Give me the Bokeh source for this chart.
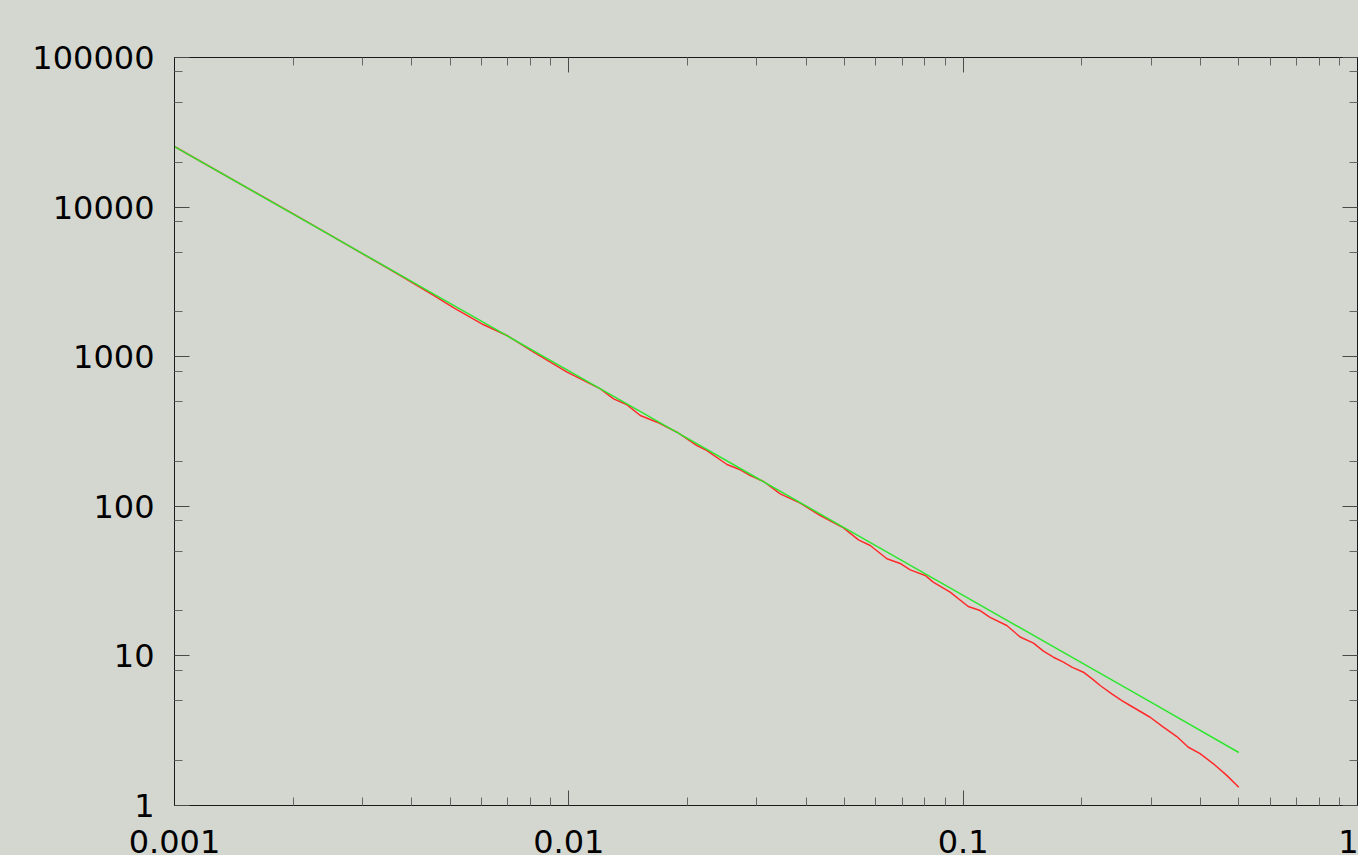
from bokeh.plotting import figure
from bokeh.models import FixedTicker, LogAxis, CustomJSTickFormatter, Range1d
from bokeh.embed import file_html
from bokeh.resources import INLINE

# ---- tick definitions ----
x_ticks = [0.001, 0.01, 0.1, 1]
x_minor_ticks = [0.002, 0.003, 0.004, 0.005, 0.006, 0.007, 0.008, 0.009,
                 0.02, 0.03, 0.04, 0.05, 0.06, 0.07, 0.08, 0.09,
                 0.2, 0.3, 0.4, 0.5, 0.6, 0.7, 0.8, 0.9]
y_ticks = [1, 10, 100, 1000, 10000, 100000]
y_minor_ticks = [2, 5, 8, 20, 50, 80, 200, 500, 800,
                 2000, 5000, 8000, 20000, 50000, 80000]

# ---- green series (reference curve) ----
green_x = [0.001, 0.002, 0.003, 0.004, 0.005, 0.007, 0.01, 0.012, 0.019,
           0.03, 0.05, 0.07, 0.1, 0.2, 0.3, 0.5]
green_y = [25400, 8980, 4888, 3175, 2272, 1371, 803, 611, 307,
           154.6, 71.8, 43.4, 25.4, 8.98, 4.89, 2.26]

# ---- red series (measured curve) ----
red_x = [0.001, 0.00209, 0.00374, 0.00454, 0.00511, 0.00608, 0.00697, 0.00814,
         0.00990, 0.01202, 0.01299, 0.01405, 0.01518, 0.01674, 0.01881, 0.02113,
         0.0224, 0.02518, 0.02721, 0.02885, 0.03117, 0.03436, 0.03862, 0.04341,
         0.04972, 0.05427, 0.05812, 0.06407, 0.06924, 0.0734, 0.08012, 0.08395,
         0.09268, 0.1030, 0.1104, 0.117, 0.129, 0.1395, 0.1508, 0.1598,
         0.1694, 0.1796, 0.1886, 0.2018, 0.214, 0.2225, 0.2382, 0.2526,
         0.2651, 0.2979, 0.3219, 0.3481, 0.3725, 0.3989, 0.4311, 0.466, 0.5]
red_y = [25420, 8430, 3490, 2566, 2123, 1634, 1386, 1072,
         787.8, 610, 523, 477, 404.6, 365, 312.8, 254.9,
         236, 190.3, 175.4, 160.7, 146.5, 121.2, 104.9, 86.8,
         71.8, 59.7, 54.7, 44.6, 41.5, 37.6, 34.5, 31.1,
         26.7, 21.4, 20.1, 18.1, 15.97, 13.38, 12.16, 10.75,
         9.80, 9.08, 8.41, 7.78, 6.92, 6.34, 5.58, 5.03,
         4.66, 3.89, 3.34, 2.89, 2.45, 2.22, 1.90, 1.59, 1.325]

BG = "#d4d7d0"
FONT = "DejaVu Sans"
FSIZE = "32px"

p = figure(frame_width=1183, frame_height=748,
           x_axis_type="log", y_axis_type="log",
           x_range=Range1d(0.001, 1), y_range=Range1d(1, 100000),
           output_backend="svg", toolbar_location=None,
           min_border_left=174, min_border_top=57,
           min_border_bottom=0, min_border_right=1,
           background_fill_color=BG, border_fill_color=BG,
           outline_line_color="#1a1a1a", outline_line_width=1)
p.grid.visible = False

fmt = CustomJSTickFormatter(code="return String(tick);")

def style_axis(ax, show_labels, standoff):
    ax.axis_line_color = "#1a1a1a"
    ax.axis_line_width = 1
    ax.major_tick_in = 15
    ax.major_tick_out = 0
    ax.minor_tick_in = 8
    ax.minor_tick_out = 0
    ax.major_tick_line_color = "#4a4a4a"
    ax.minor_tick_line_color = "#666666"
    ax.major_tick_line_width = 1
    ax.minor_tick_line_width = 1
    if show_labels:
        ax.major_label_text_font = FONT
        ax.major_label_text_font_size = FSIZE
        ax.major_label_text_color = "#000000"
        ax.major_label_standoff = standoff
    else:
        ax.major_label_text_color = None
        ax.major_label_text_font_size = "0px"
        ax.major_label_standoff = 0

p.xaxis[0].ticker = FixedTicker(ticks=x_ticks, minor_ticks=x_minor_ticks)
p.xaxis[0].formatter = fmt
style_axis(p.xaxis[0], True, 24)

p.yaxis[0].ticker = FixedTicker(ticks=y_ticks, minor_ticks=y_minor_ticks)
p.yaxis[0].formatter = fmt
style_axis(p.yaxis[0], True, 20)

top = LogAxis(ticker=FixedTicker(ticks=x_ticks, minor_ticks=x_minor_ticks), formatter=fmt)
style_axis(top, False, 0)
p.add_layout(top, "above")

right = LogAxis(ticker=FixedTicker(ticks=y_ticks, minor_ticks=y_minor_ticks), formatter=fmt)
style_axis(right, False, 0)
p.add_layout(right, "right")

p.line(red_x, red_y, line_color="#ff2a2a", line_width=1.5)
p.line(green_x, green_y, line_color="#2ee62e", line_width=1.5)

html = file_html(p, INLINE)
html = html.replace("</head>",
                    "<style>html, body {background: %s; overflow: hidden;}</style></head>" % BG, 1)
open("out.html", "w").write(html)
